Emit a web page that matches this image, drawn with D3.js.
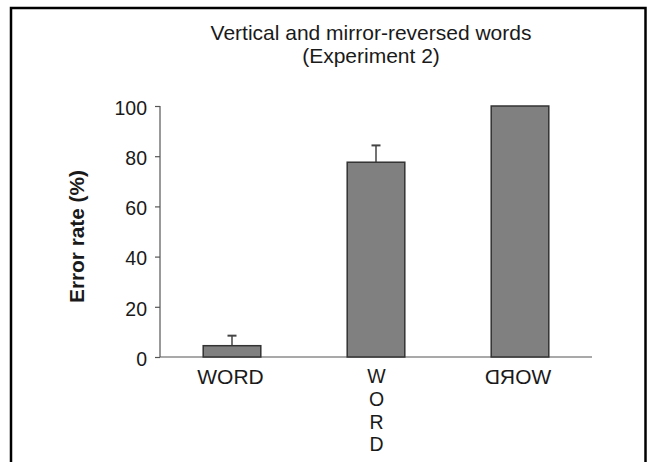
<!DOCTYPE html>
<html>
<head>
<meta charset="utf-8">
<script src="https://cdn.jsdelivr.net/npm/d3@7"></script>
<style>
  html, body { margin: 0; padding: 0; background: #fff; }
  svg { display: block; }
  text { font-family: "Liberation Sans", Arial, Helvetica, sans-serif; fill: #1a1a1a; }
</style>
</head>
<body>
<svg id="chart" width="647" height="462"></svg>
<script>
const categories = ["horizontal", "vertical", "mirror"];
const categoryLabels = ["WORD", "WORD", "WORD"];
const errorRate = [4.5, 77.6, 100];
const errorUpper = [4.0, 6.7, 0];
const yTicks = [0, 20, 40, 60, 80, 100];
const titleLines = ["Vertical and mirror-reversed words", "(Experiment 2)"];
const yLabel = "Error rate (%)";

const svg = d3.select("#chart");

// frame
svg.append("rect")
  .attr("x", 11).attr("y", 8).attr("width", 634.5).attr("height", 470)
  .attr("fill", "none").attr("stroke", "#000").attr("stroke-width", 2.5);

const x = d3.scaleBand().domain(categories).range([160, 592]).paddingInner(0.6).paddingOuter(0.3);
const y = d3.scaleLinear().domain([0, 100]).range([357, 106]);

// title
svg.append("text").attr("x", 371).attr("y", 39.5)
  .attr("text-anchor", "middle").style("font-size", "21px").text(titleLines[0]);
svg.append("text").attr("x", 371).attr("y", 62.5)
  .attr("text-anchor", "middle").style("font-size", "21px").text(titleLines[1]);

// y axis
const yAxis = d3.axisLeft(y).tickValues(yTicks).tickSize(5).tickPadding(8);
const gy = svg.append("g").attr("transform", "translate(160,0)").call(yAxis);
gy.select(".domain").attr("stroke", "#555").attr("stroke-width", 1.2).attr("d", `M-0,${y(100)}V${y(0)}`);
gy.selectAll(".tick line").attr("stroke", "#555").attr("stroke-width", 1.2);
gy.selectAll(".tick text").style("font-size", "19.5px").attr("fill", "#1a1a1a")
  .attr("font-family", "Liberation Sans, Arial, sans-serif")
  .attr("dy", "0.42em");

// baseline
svg.append("line").attr("x1", 160).attr("x2", 592).attr("y1", y(0)).attr("y2", y(0))
  .attr("stroke", "#555").attr("stroke-width", 1.2);

// y label
svg.append("text")
  .attr("transform", `translate(84,236.5) rotate(-90)`)
  .attr("text-anchor", "middle").style("font-size", "20.8px").style("font-weight", "bold")
  .text(yLabel);

// error bars
const capW = 9;
categories.forEach((c, i) => {
  if (errorUpper[i] <= 0) return;
  const cx = x(c) + x.bandwidth() / 2;
  svg.append("line").attr("x1", cx).attr("x2", cx)
    .attr("y1", y(errorRate[i])).attr("y2", y(errorRate[i] + errorUpper[i]))
    .attr("stroke", "#444").attr("stroke-width", 1.5);
  svg.append("line").attr("x1", cx - capW / 2).attr("x2", cx + capW / 2)
    .attr("y1", y(errorRate[i] + errorUpper[i])).attr("y2", y(errorRate[i] + errorUpper[i]))
    .attr("stroke", "#444").attr("stroke-width", 2);
});

// bars
svg.append("g").selectAll("rect").data(categories).join("rect")
  .attr("x", d => x(d)).attr("width", x.bandwidth())
  .attr("y", (d, i) => y(errorRate[i]))
  .attr("height", (d, i) => y(0) - y(errorRate[i]))
  .attr("fill", "#808080").attr("stroke", "#333").attr("stroke-width", 1.5);

// category labels
const labY = 384;
svg.append("text").attr("x", x(categories[0]) + x.bandwidth() / 2 - 1.5).attr("y", labY)
  .attr("text-anchor", "middle").style("font-size", "21px").text(categoryLabels[0]);
const vx = x(categories[1]) + x.bandwidth() / 2 + 0.5;
const vBase = [383, 405.5, 429, 451];
categoryLabels[1].split("").forEach((ch, k) => {
  svg.append("text").attr("x", vx).attr("y", vBase[k])
    .attr("text-anchor", "middle").style("font-size", "19.5px").text(ch);
});
const mx = x(categories[2]) + x.bandwidth() / 2 - 2;
svg.append("text").attr("transform", `translate(${mx},${labY}) scale(-1,1)`)
  .attr("text-anchor", "middle").style("font-size", "21px").text(categoryLabels[2]);
</script>
</body>
</html>
